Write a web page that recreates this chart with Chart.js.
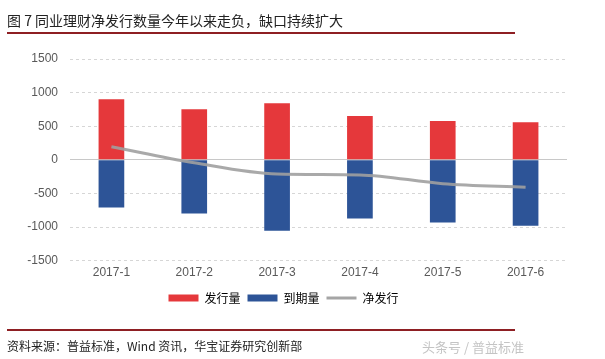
<!DOCTYPE html>
<html>
<head>
<meta charset="utf-8">
<script src="https://cdn.jsdelivr.net/npm/chart.js@4"></script>
<style>
  body { margin: 0; background: #fff; font-family: "Noto Sans CJK SC", sans-serif; }
  #wrap { position: relative; width: 605px; height: 359px; overflow: hidden; }
  #myChart { position: absolute; left: 0; top: 0; }
  .title { position: absolute; left: 7px; top: 10px; font-size: 14px; color: #222; white-space: nowrap; }
  .rule { position: absolute; left: 7px; width: 508px; height: 2px; background: #8e1f23; }
  .src { position: absolute; left: 7px; top: 337px; font-size: 12px; color: #222; white-space: nowrap; }
  .mark { position: absolute; left: 422px; top: 337px; font-size: 13px; color: #c4c4c4; white-space: nowrap; }
</style>
</head>
<body>
<div id="wrap">
  <canvas id="myChart" width="605" height="359"></canvas>
  <div class="title">图 7 同业理财净发行数量今年以来走负，缺口持续扩大</div>
  <div class="rule" style="top:32px"></div>
  <div class="rule" style="top:329px"></div>
  <div class="src">资料来源：普益标准，Wind 资讯，华宝证券研究创新部</div>
  <div class="mark">头条号 / 普益标准</div>
</div>
<script>
var ctx = document.getElementById('myChart').getContext('2d');

// values
var months = ['2017-1', '2017-2', '2017-3', '2017-4', '2017-5', '2017-6'];
var issue = [900, 752, 842, 652, 577, 558];
var maturity = [-708, -798, -1057, -873, -933, -982];
var net = [195, -45, -212, -225, -355, -410];
var y_ticks = [-1500, -1000, -500, 0, 500, 1000, 1500];

var red = 'rgb(229,56,59)';
var blue = 'rgb(45,84,151)';
var grey = 'rgba(160,160,160,0.9)';

var chart = new Chart(ctx, {
  type: 'bar',
  data: {
    labels: months,
    datasets: [
      {
        type: 'line',
        label: '净发行',
        data: net,
        borderColor: grey,
        backgroundColor: grey,
        borderWidth: 3,
        pointRadius: 0,
        tension: 0.4,
        cubicInterpolationMode: 'monotone',
        order: 0
      },
      {
        label: '发行量',
        data: issue,
        backgroundColor: red,
        barPercentage: 0.62,
        categoryPercentage: 0.5,
        order: 1
      },
      {
        label: '到期量',
        data: maturity,
        backgroundColor: blue,
        barPercentage: 0.62,
        categoryPercentage: 0.5,
        order: 1
      }
    ]
  },
  options: {
    responsive: false,
    animation: false,
    layout: { padding: { top: 59, left: 0, right: 38, bottom: 45 } },
    scales: {
      x: {
        stacked: true,
        grid: { display: false, drawTicks: false },
        border: { display: false },
        ticks: { color: '#595959', font: { size: 12, family: 'Liberation Sans' }, padding: 5 }
      },
      y: {
        stacked: true,
        min: -1500,
        max: 1500,
        afterBuildTicks: function (scale) {
          scale.ticks = y_ticks.map(function (v) { return { value: v }; });
        },
        afterFit: function (scale) { scale.width = 70; },
        grid: {
          drawTicks: false,
          color: function (c) { return c.tick && c.tick.value === 0 ? '#c8c8c8' : '#d6d6d6'; },
          lineWidth: 1
        },
        border: {
          display: false,
          dash: function (c) { return c.tick && c.tick.value === 0 ? [] : [3, 3]; }
        },
        ticks: {
          color: '#595959',
          font: { size: 12, family: 'Liberation Sans' },
          padding: 12,
          callback: function (v) { return String(v); }
        }
      }
    },
    plugins: {
      tooltip: { enabled: false },
      legend: {
        position: 'bottom',
        labels: {
          color: '#333',
          font: { size: 12, family: 'Noto Sans CJK SC' },
          usePointStyle: true,
          pointStyleWidth: 30,
          boxHeight: 7,
          padding: 7,
          generateLabels: function (ch) {
            return [
              { text: '发行量', fillStyle: red, strokeStyle: red, lineWidth: 0, pointStyle: 'rect', datasetIndex: 1 },
              { text: '到期量', fillStyle: blue, strokeStyle: blue, lineWidth: 0, pointStyle: 'rect', datasetIndex: 2 },
              { text: '净发行', fillStyle: grey, strokeStyle: 'rgb(165,165,165)', lineWidth: 3, pointStyle: 'line', datasetIndex: 0 }
            ];
          }
        }
      }
    }
  }
});
</script>
</body>
</html>
